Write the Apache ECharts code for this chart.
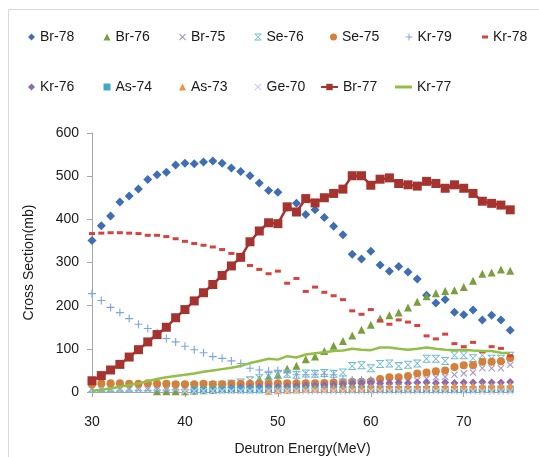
<!DOCTYPE html>
<html>
<head>
<meta charset="utf-8">
<script src="https://cdn.jsdelivr.net/npm/echarts@6/dist/echarts.min.js"></script>
<style>
html,body{margin:0;padding:0;background:#fff;}
#chart{width:539px;height:457px;}
</style>
</head>
<body>
<div id="chart"></div>
<script>
// Deutron energy (MeV)
const energies = [30,31,32,33,34,35,36,37,38,39,40,41,42,43,44,45,46,47,48,49,50,51,52,53,54,55,56,57,58,59,60,61,62,63,64,65,66,67,68,69,70,71,72,73,74,75];
const xTicks = [30,40,50,60,70];
const yTicks = [0,100,200,300,400,500,600];

// Cross sections (mb), one value per energy above (null = no point)
const br78 = [351,385,408,440,454,470,492,503,509,526,530,529,533,535,530,519,511,501,484,467,463,428,437,411,422,404,384,364,319,308,326,294,280,291,278,262,224,206,214,185,179,190,167,178,167,143];
const br76 = [null,null,null,null,null,null,null,2,2,2,2,3,4,5,8,11,16,22,30,36,40,54,61,76,82,95,107,118,131,144,156,170,178,184,196,209,222,229,234,236,243,258,274,277,284,281];
const br75 = [6,6,6,6,6,6,6,6,6,6,6,6,7,7,7,7,7,8,8,9,10,12,13,14,15,16,17,18,19,20,21,22,23,23,25,27,31,34,35,40,43,45,55,55,55,63];
const se76 = [8,9,9,10,10,11,11,12,12,13,13,14,15,16,17,19,22,27,32,37,40,42,40,43,42,44,42,45,60,62,55,65,66,60,63,66,77,77,72,85,85,78,85,77,77,84];
const se75 = [18,20,20,20,19,19,20,19,19,18,18,18,19,18,18,19,19,19,19,19,20,20,20,20,20,21,22,22,24,24,25,30,34,34,37,43,45,48,50,58,62,62,70,70,71,79];
const kr79 = [228,212,196,184,170,157,147,137,124,116,106,98,91,82,78,72,66,55,51,48,50,44,40,40,41,41,40,30,28,28,28,null,null,null,null,null,null,null,null,null,null,null,null,null,null,null];
const kr78 = [367,368,369,369,368,367,363,363,360,355,349,344,340,336,330,321,307,293,284,274,280,252,263,233,243,231,223,214,188,180,191,165,157,167,162,154,130,123,134,112,105,115,93,105,101,84];
const kr76 = [null,null,null,null,null,null,null,null,null,null,null,null,null,null,null,10,11,11,12,12,12,13,14,15,15,16,17,18,20,21,22,20,21,22,21,22,22,21,22,21,22,22,23,22,22,23];
const as74 = [null,null,null,null,null,null,null,null,null,null,null,4,4,4,5,5,5,5,5,5,5,5,6,6,6,6,6,6,6,6,6,6,6,6,6,6,6,6,6,6,6,6,7,7,7,7];
const as73 = [null,null,null,null,null,null,null,null,null,null,null,null,null,null,null,null,null,null,null,3,4,5,6,7,8,8,9,9,10,10,11,11,12,12,12,13,13,13,13,14,14,14,14,14,14,15];
const ge70 = [null,null,null,null,null,null,null,null,null,null,2,2,2,2,2,2,2,2,2,2,2,2,2,2,2,2,2,2,2,2,2,2,2,2,2,2,2,2,2,2,2,2,1,1,1,1];
const br77 = [26,38,51,64,81,98,116,133,150,172,191,211,230,249,270,292,312,348,373,392,390,429,417,448,438,450,460,470,501,501,479,493,496,483,480,477,488,483,472,480,472,460,442,437,433,422];
const kr77 = [3,5,8,12,16,20,25,30,34,37,40,43,47,50,53,56,60,67,72,77,75,83,80,87,90,92,95,96,100,98,97,103,103,100,98,100,103,100,98,97,98,96,95,95,91,90];

function pts(vals){
  const out = [];
  for (let i = 0; i < energies.length; i++) {
    if (vals[i] != null) out.push([energies[i], vals[i]]);
  }
  return out;
}

const X_PATH = 'path://M0,1.2L1.2,0L5,3.8L8.8,0L10,1.2L6.2,5L10,8.8L8.8,10L5,6.2L1.2,10L0,8.8L3.8,5Z';
const PLUS_PATH = 'path://M4.3,0H5.7V4.3H10V5.7H5.7V10H4.3V5.7H0V4.3H4.3Z';
const SE76_PATH = 'path://M0,0H10V1.3H0ZM0,8.7H10V10H0ZM0.6,1.3H2L5,4.2L8,1.3H9.4L5.7,5L9.4,8.7H8L5,5.8L2,8.7H0.6L4.3,5Z';

const FONT = '"Liberation Sans", Arial, sans-serif';

const seriesDefs = [
  {name:'Br-78', data:br78, type:'scatter', symbol:'diamond', size:9, color:'#3F6EB3'},
  {name:'Br-76', data:br76, type:'scatter', symbol:'triangle', size:8, color:'#7A9F3D'},
  {name:'Br-75', data:br75, type:'scatter', symbol:X_PATH, size:7, color:'#A99BCB'},
  {name:'Se-76', data:se76, type:'scatter', symbol:SE76_PATH, size:8, color:'#72BBD0'},
  {name:'Se-75', data:se75, type:'scatter', symbol:'circle', size:8, color:'#D5803A'},
  {name:'Kr-79', data:kr79, type:'scatter', symbol:PLUS_PATH, size:8, color:'#7FA6DC'},
  {name:'Kr-78', data:kr78, type:'scatter', symbol:'rect', size:[6,3], color:'#D8413D'},
  {name:'Kr-76', data:kr76, type:'scatter', symbol:'diamond', size:8, color:'#8A6BB2'},
  {name:'As-74', data:as74, type:'scatter', symbol:'rect', size:7, color:'#41A8C6'},
  {name:'As-73', data:as73, type:'scatter', symbol:'triangle', size:8, color:'#F4903F'},
  {name:'Ge-70', data:ge70, type:'scatter', symbol:X_PATH, size:7, color:'#C8CDE9'},
  {name:'Br-77', data:br77, type:'line', symbol:'rect', size:9, color:'#A5332F'},
  {name:'Kr-77', data:kr77, type:'line', symbol:'none', size:0, color:'#92BF48'}
];

const series = seriesDefs.map(d => {
  const s = {
    name: d.name, type: d.type, data: pts(d.data),
    symbol: d.symbol, symbolSize: d.size, symbolKeepAspect: true,
    itemStyle: {color: d.color, opacity: 1},
    silent: true, animation: false
  };
  if (d.type === 'line') {
    s.showSymbol = d.symbol !== 'none';
    s.lineStyle = {color: d.color, width: 2.5};
  }
  return s;
});

// legend layout: text start x positions per row
const legendRows = [
  {y: 30, names:['Br-78','Br-76','Br-75','Se-76','Se-75','Kr-79','Kr-78'], xs:[40,115.5,191,266.5,342,417.5,493]},
  {y: 80, names:['Kr-76','As-74','As-73','Ge-70','Br-77','Kr-77'], xs:[40,115.5,191,266.5,342,417]}
];
const legends = [];
legendRows.forEach(row => {
  row.names.forEach((nm, i) => {
    const d = seriesDefs.find(s => s.name === nm);
    let w, h, item = nm;
    if (d.type === 'line') { w = 17; h = 8; }
    else if (Array.isArray(d.size)) { w = 6; h = 3; }
    else { w = 7; h = 7; }
    if (d.type === 'line' && d.symbol === 'none') {
      item = {name: nm, icon: 'path://M0,0H17V3H0Z'};
      h = 3;
    }
    legends.push({
      data: [item], left: row.xs[i] - 5 - w, top: row.y, padding: 0,
      itemWidth: w, itemHeight: h, selectedMode: false,
      textStyle: {fontFamily: FONT, fontSize: 14, color: '#1a1a1a'}
    });
  });
});

const chart = echarts.init(document.getElementById('chart'), null, {renderer: 'canvas'});
chart.setOption({
  animation: false,
  backgroundColor: '#fff',
  graphic: [{type:'rect', left: 6, top: 7, shape:{width: 600, height: 500}, style:{fill:'none', stroke:'#D9D9D9', lineWidth:1}, silent:true}],
  legend: legends,
  grid: {left: 92, right: 26, top: 133, bottom: 65, containLabel: false, outerBoundsMode: 'none'},
  xAxis: {
    type: 'value', min: 30, max: 75.3, interval: 10,
    name: 'Deutron Energy(MeV)', nameLocation: 'middle', nameGap: 50,
    nameTextStyle: {fontFamily: FONT, fontSize: 14, color: '#1a1a1a'},
    axisLine: {show: true, lineStyle: {color: '#A6A6A6', width: 1}},
    axisTick: {show: true, inside: false, length: 5, lineStyle: {color: '#A6A6A6'}, customValues: xTicks},
    axisLabel: {fontFamily: FONT, fontSize: 14, color: '#1a1a1a', margin: 23, customValues: xTicks},
    splitLine: {show: false}
  },
  yAxis: {
    type: 'value', min: 0, max: 600, interval: 100,
    name: 'Cross Section(mb)', nameLocation: 'middle', nameGap: 56,
    nameTextStyle: {fontFamily: FONT, fontSize: 14, color: '#1a1a1a'},
    axisLine: {show: true, lineStyle: {color: '#A6A6A6', width: 1}},
    axisTick: {show: true, inside: false, length: 5, lineStyle: {color: '#A6A6A6'}},
    axisLabel: {fontFamily: FONT, fontSize: 14, color: '#1a1a1a', margin: 13, customValues: yTicks},
    splitLine: {show: false}
  },
  series: series
});
</script>
</body>
</html>
